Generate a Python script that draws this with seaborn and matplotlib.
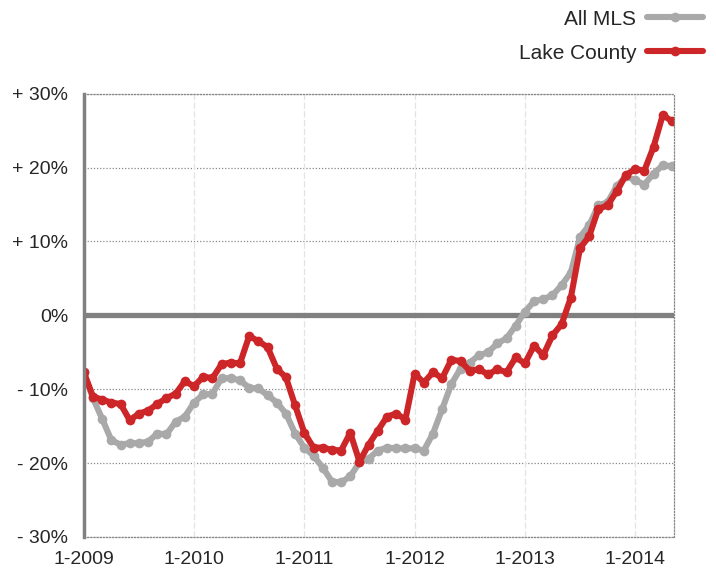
import pandas as pd
import numpy as np
import matplotlib
matplotlib.use("Agg")
import matplotlib.pyplot as plt
import seaborn as sns
from matplotlib.lines import Line2D

# Section 1 - Data (monthly, 1-2009 .. 5-2014, % change)

months = pd.date_range("2009-01-01", "2014-05-01", freq="MS")

lake_county = [
    -7.7, -11.0, -11.4, -11.8, -12.0, -14.2, -13.3, -12.9, -12.0, -11.2, -10.6, -8.9,
    -9.6, -8.3, -8.5, -6.6, -6.4, -6.5, -2.8, -3.5, -4.3, -7.2, -8.4, -12.2,
    -15.9, -17.9, -17.9, -18.2, -18.3, -15.9, -19.8, -17.5, -15.6, -13.7, -13.3, -14.1,
    -7.9, -9.1, -7.7, -8.5, -6.0, -6.2, -7.5, -7.3, -8.0, -7.3, -7.7, -5.7,
    -6.5, -4.1, -5.4, -2.7, -1.2, 2.4, 9.1, 10.7, 14.4, 14.9, 16.8, 19.0,
    19.8, 19.6, 22.8, 27.1, 26.3,
]

all_mls = [
    -7.7, -11.2, -14.0, -16.9, -17.5, -17.3, -17.3, -17.1, -16.0, -16.1, -14.4, -13.7,
    -11.8, -10.7, -10.6, -8.5, -8.5, -8.8, -9.8, -9.9, -10.8, -11.8, -13.3, -16.0,
    -17.9, -19.0, -20.6, -22.5, -22.6, -21.8, -19.9, -19.4, -18.3, -17.9, -18.0, -18.0,
    -18.0, -18.3, -16.0, -12.7, -9.3, -7.2, -6.4, -5.4, -5.0, -3.8, -3.1, -1.4,
    0.5, 1.9, 2.2, 2.7, 4.1, 5.8, 10.6, 12.2, 14.9, 15.3, 17.5, 18.8,
    18.3, 17.7, 19.2, 20.3, 20.2,
]

y_ticks = [30, 20, 10, 0, -10, -20, -30]
y_labels = ["+ 30%", "+ 20%", "+ 10%", "0%", "- 10%", "- 20%", "- 30%"]
x_labels = ["1-2009", "1-2010", "1-2011", "1-2012", "1-2013", "1-2014"]

df = pd.DataFrame({
    "month": np.arange(len(months)),
    "All MLS": all_mls,
    "Lake County": lake_county,
})
long_df = df.melt(id_vars="month", var_name="series", value_name="change")

# Section 2 - Plot

sns.set_theme(style="white")
plt.rcParams["font.family"] = ["Liberation Sans", "DejaVu Sans"]

fig = plt.figure(figsize=(7.16, 5.68), dpi=100)
ax = fig.add_axes([0.117, 0.0546, 0.824, 0.7804])

palette = {"All MLS": "#a9a9a9", "Lake County": "#cc2629"}

sns.lineplot(
    data=long_df, x="month", y="change", hue="series",
    palette=palette, linewidth=4.4, marker="o", markersize=7,
    markeredgewidth=0, ax=ax, legend=False,
)

ax.set_xlim(0, 64.2)
ax.set_ylim(-30, 30)

# grid + zero line
for v in [10, 20, 30, -10, -20, -30]:
    ax.axhline(v, color="#888888", lw=0.9, ls=(0, (1, 1.5)), zorder=0)
for m in [12, 24, 36, 48, 60]:
    ax.axvline(m, color="#e3e3e3", lw=0.9, ls=(0, (5, 2)), zorder=0)
ax.axhline(0, color="#808080", lw=3.8, zorder=1)

ax.set_yticks(y_ticks)
ax.set_yticklabels(y_labels, fontsize=14)
ax.set_xticks([0, 12, 24, 36, 48, 60])
ax.set_xticklabels(x_labels, fontsize=14)
ax.tick_params(axis="y", length=5, width=2.5, color="#808080", pad=6)
ax.tick_params(axis="x", length=0, pad=10)
ax.set_xlabel("")
ax.set_ylabel("")

ax.spines["left"].set_color("#808080")
ax.spines["left"].set_linewidth(2.5)
for side in ["top", "right", "bottom"]:
    ax.spines[side].set_color("#888888")
    ax.spines[side].set_linewidth(0.9)
    ax.spines[side].set_linestyle((0, (1, 1.5)))

# legend, top right, handle after text
handles = [
    Line2D([], [], color=palette[s], lw=4.4, marker="o", markersize=7, markeredgewidth=0)
    for s in ["All MLS", "Lake County"]
]
fig.legend(
    handles, ["All MLS", "Lake County"], loc="upper right",
    bbox_to_anchor=(1.008, 1.016), frameon=False, markerfirst=False,
    fontsize=15, handlelength=2.7, handletextpad=0.5, labelspacing=0.72,
)

plt.savefig("out.png", dpi=100)
